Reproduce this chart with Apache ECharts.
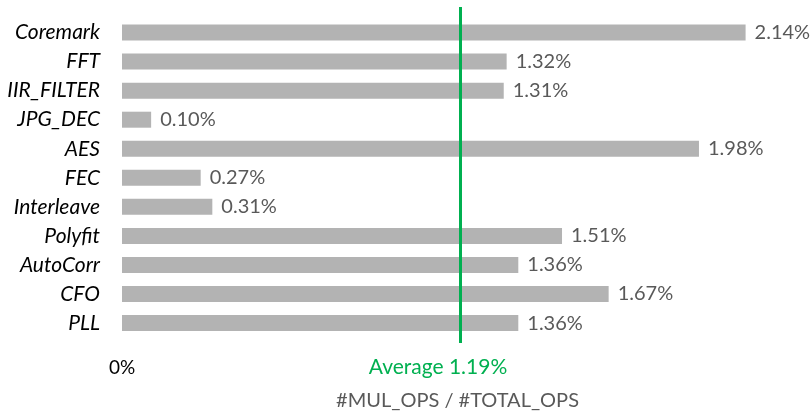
<!DOCTYPE html>
<html>
<head>
<meta charset="utf-8">
<script src="https://cdn.jsdelivr.net/npm/echarts@6/dist/echarts.min.js"></script>
<style>
  html, body { margin: 0; padding: 0; background: #fff; }
  #chart { width: 812px; height: 413px; }
</style>
</head>
<body>
<div id="chart"></div>
<script>
// data
const benchmarks = ['Coremark', 'FFT', 'IIR_FILTER', 'JPG_DEC', 'AES', 'FEC', 'Interleave', 'Polyfit', 'AutoCorr', 'CFO', 'PLL']
const mulRatio = [2.14, 1.32, 1.31, 0.10, 1.98, 0.27, 0.31, 1.51, 1.36, 1.67, 1.36]
const avgLabel = 1.19
const avgLinePos = 1.16   // where the green line sits in the picture
const axisTicks = [0]

const FONT = 'Lato'
const xMax = 2.2
const pxPerUnit = 291.4
const gridLeft = 122
const gridWidth = xMax * pxPerUnit

const chart = echarts.init(document.getElementById('chart'))

chart.setOption({
  animation: false,
  textStyle: { fontFamily: FONT },
  grid: [
    { left: gridLeft, width: gridWidth, top: 18, height: 319.6, outerBoundsMode: 'none', containLabel: false },
    { left: gridLeft, width: gridWidth, top: 7, height: 336, outerBoundsMode: 'none', containLabel: false }
  ],
  xAxis: [
    {
      type: 'value', gridIndex: 0, min: 0, max: xMax,
      splitLine: { show: false },
      axisLine: { show: false },
      axisTick: { show: false },
      axisLabel: {
        customValues: axisTicks,
        formatter: v => v + '%',
        color: '#000', fontSize: 19, margin: 21
      },
      name: '#MUL_OPS / #TOTAL_OPS',
      nameLocation: 'middle',
      nameGap: 53,
      nameTextStyle: { color: '#595959', fontSize: 20, padding: [0, 0, 0, 30] }
    },
    {
      type: 'value', gridIndex: 1, min: 0, max: xMax, show: false
    }
  ],
  yAxis: [
    {
      type: 'category', gridIndex: 0, data: benchmarks, inverse: true,
      axisLine: { show: false },
      axisTick: { show: false },
      axisLabel: { color: '#000', fontSize: 21, fontStyle: 'italic', margin: 22 }
    },
    { type: 'value', gridIndex: 1, min: 0, max: 1, show: false }
  ],
  series: [
    {
      type: 'bar',
      xAxisIndex: 0, yAxisIndex: 0,
      data: mulRatio,
      barWidth: 16,
      itemStyle: { color: '#b3b3b3' },
      label: {
        show: true, position: 'right', distance: 9,
        color: '#595959', fontSize: 20,
        formatter: p => p.value.toFixed(2) + '%'
      }
    },
    {
      type: 'line',
      xAxisIndex: 1, yAxisIndex: 1,
      data: [],
      markLine: {
        silent: true,
        symbol: 'none',
        lineStyle: { color: '#00b050', width: 3, type: 'solid' },
        label: {
          show: true, position: 'start',
          formatter: 'Average ' + avgLabel.toFixed(2) + '%',
          color: '#00b050', fontSize: 21, distance: 14,
          padding: [0, 44, 0, 0]
        },
        data: [{ xAxis: avgLinePos }]
      }
    }
  ]
})
</script>
</body>
</html>
